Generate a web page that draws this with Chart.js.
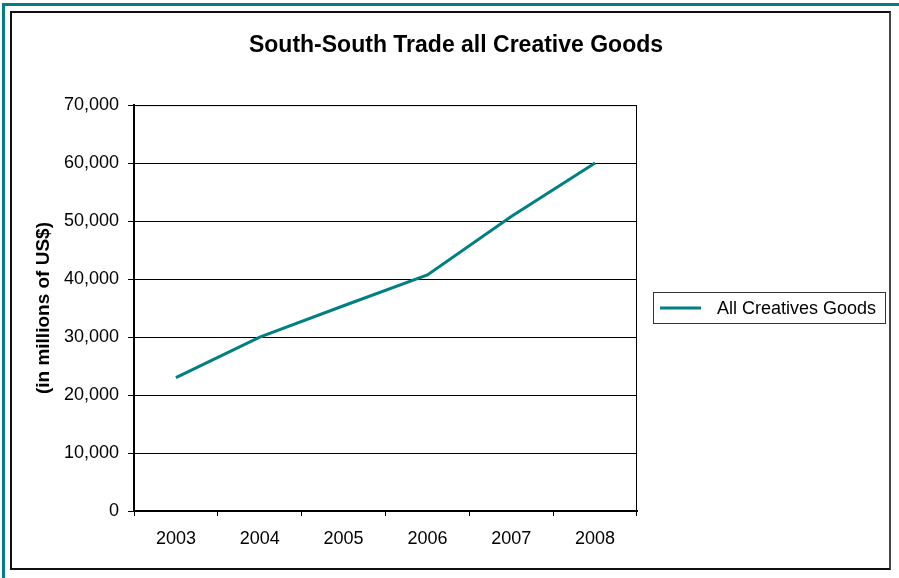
<!DOCTYPE html>
<html>
<head>
<meta charset="utf-8">
<script src="https://cdn.jsdelivr.net/npm/chart.js@4.4.1/dist/chart.umd.min.js"></script>
<style>
    body { margin: 0; background: #fff; overflow: hidden; }
    .outer { position: absolute; left: 2px; top: 3px; width: 920px; height: 600px; border: 3px solid #008080; }
    .inner { position: absolute; left: 10px; top: 11px; width: 877px; height: 555px; border: 2px solid #111; border-right-color: #444; }
    #tradeChart { position: absolute; left: 0; top: 0; }
</style>
</head>
<body>
<div class="outer"></div>
<div class="inner"></div>
<canvas id="tradeChart" width="899" height="578"></canvas>
<script>
// South-South trade in creative goods, millions of US$
var years = ['2003', '2004', '2005', '2006', '2007', '2008'];
var creativeGoods = [23000, 30000, 35400, 40700, 50800, 60000];
var yTicks = [0, 10000, 20000, 30000, 40000, 50000, 60000, 70000];

Chart.defaults.font.family = "'Liberation Sans', Arial, sans-serif";
Chart.defaults.font.size = 18;
Chart.defaults.color = '#000';

// black frame round the plot area
var plotFrame = {
    id: 'plotFrame',
    beforeDatasetsDraw: function (chart) {
        var a = chart.chartArea;
        var ctx = chart.ctx;
        ctx.save();
        ctx.strokeStyle = '#000';
        ctx.lineWidth = 1;
        ctx.strokeRect(a.left + 0.5, a.top + 0.5, a.right - a.left - 1, a.bottom - a.top);
        ctx.restore();
    }
};

// boxed legend drawn in the space kept free by the 'side' axis
var legendBox = {
    id: 'legendBox',
    afterDraw: function (chart) {
        var ds = chart.data.datasets[0];
        var a = chart.chartArea;
        var ctx = chart.ctx;
        var x0 = Math.round(a.right) + 16;
        var yMid = Math.round((a.top + a.bottom) / 2);
        ctx.save();
        ctx.strokeStyle = '#333';
        ctx.lineWidth = 1;
        ctx.strokeRect(x0 + 0.5, yMid - 15.5, 232, 31);
        ctx.strokeStyle = ds.borderColor;
        ctx.lineWidth = ds.borderWidth;
        ctx.beginPath();
        ctx.moveTo(x0 + 7, yMid);
        ctx.lineTo(x0 + 48, yMid);
        ctx.stroke();
        ctx.fillStyle = '#000';
        ctx.font = "18px 'Liberation Sans', Arial, sans-serif";
        ctx.textBaseline = 'middle';
        ctx.fillText(ds.label, x0 + 64, yMid + 1);
        ctx.restore();
    }
};

var ctx = document.getElementById('tradeChart').getContext('2d');
var tradeChart = new Chart(ctx, {
    type: 'line',
    plugins: [plotFrame, legendBox],
    data: {
        labels: years,
        datasets: [{
            label: 'All Creatives Goods',
            data: creativeGoods,
            borderColor: '#008080',
            backgroundColor: '#008080',
            borderWidth: 3,
            pointRadius: 0,
            tension: 0,
            fill: false
        }]
    },
    options: {
        responsive: false,
        animation: false,
        layout: {
            padding: { left: 32, right: 19, top: 0, bottom: 27 }
        },
        scales: {
            x: {
                offset: true,
                grid: {
                    offset: true,
                    drawOnChartArea: false,
                    color: '#000',
                    tickLength: 5
                },
                border: { color: '#000', width: 2 },
                ticks: { padding: 12 },
                afterFit: function (scale) { scale.height = 40; }
            },
            y: {
                min: 0,
                max: 70000,
                afterBuildTicks: function (scale) {
                    scale.ticks = yTicks.map(function (v) { return { value: v }; });
                },
                grid: { color: '#000', tickLength: 6 },
                border: { color: '#000', width: 2 },
                ticks: { padding: 9 },
                title: {
                    display: true,
                    text: '(in millions of US$)',
                    font: { size: 19, weight: 'bold' },
                    padding: 0
                },
                afterFit: function (scale) { scale.width = 102; }
            },
            side: {
                type: 'linear',
                position: 'right',
                grid: { display: false },
                border: { display: false },
                ticks: { display: false },
                afterFit: function (scale) { scale.width = 243; }
            }
        },
        plugins: {
            title: {
                display: true,
                text: 'South-South Trade all Creative Goods',
                font: { size: 23, weight: 'bold' },
                padding: { top: 32, bottom: 45.5 }
            },
            legend: { display: false },
            tooltip: { enabled: false }
        }
    }
});
</script>
</body>
</html>
